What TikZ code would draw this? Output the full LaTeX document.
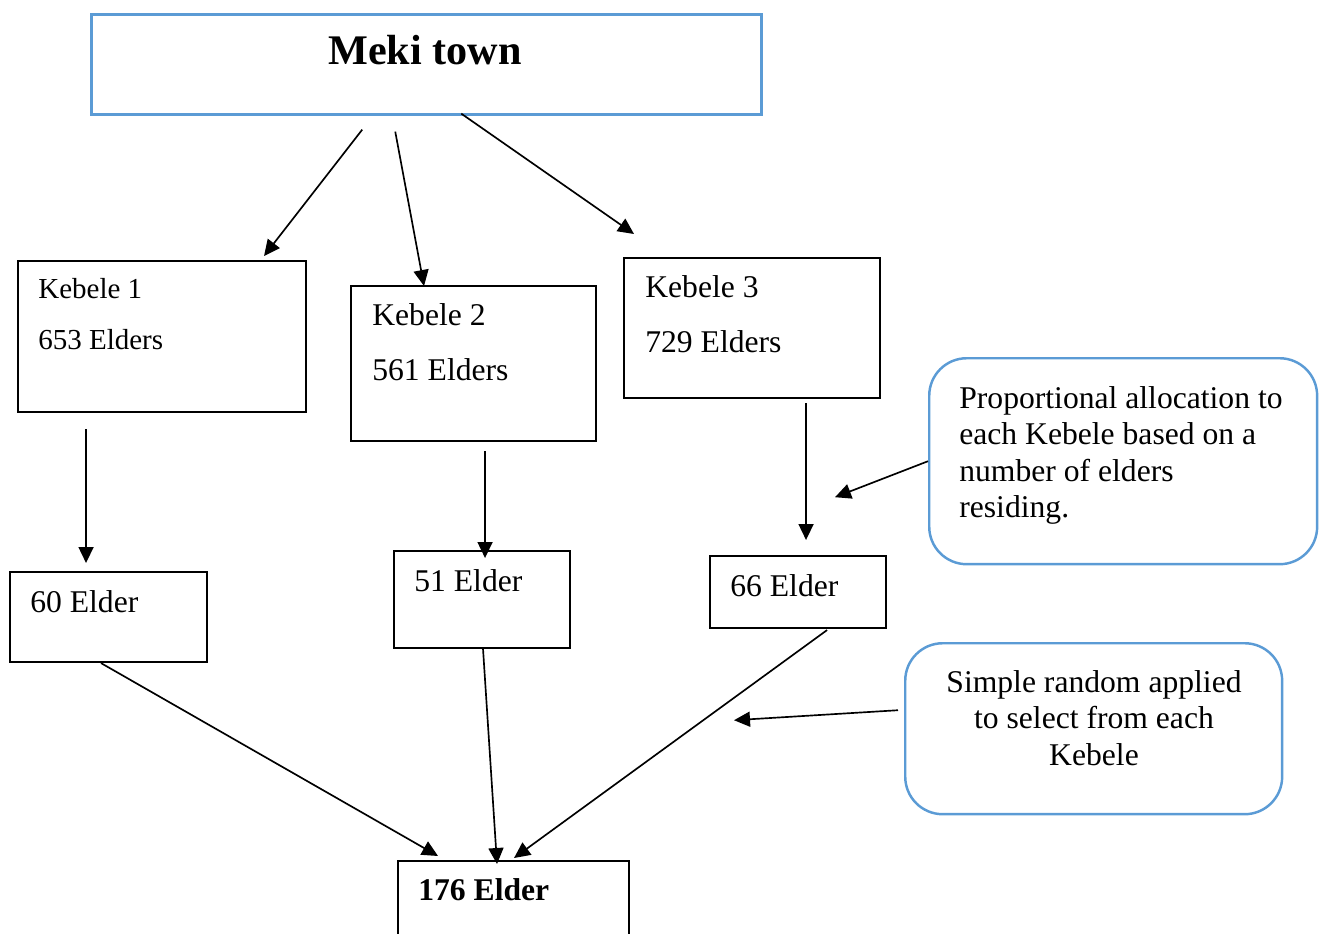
\documentclass[tikz,border=0pt]{standalone}
\usepackage{fontspec}
\setmainfont{Liberation Serif}
\usetikzlibrary{arrows.meta,calc}
\definecolor{boxblue}{RGB}{91,155,213}

\begin{document}
\begin{tikzpicture}[x=0.02cm, y=-0.02cm]

% Define styles
\tikzstyle{town} = [rectangle, draw=boxblue, line width=1.5pt, anchor=north west, inner sep=0pt]
\tikzstyle{kebele} = [rectangle, draw=black, line width=1.2pt, anchor=north west, inner sep=0pt]
\tikzstyle{note} = [rectangle, rounded corners=0.75cm, draw=boxblue, line width=1.4pt, anchor=north west, inner sep=0pt]
\tikzstyle{celltext} = [inner sep=0pt, align=left, anchor=north west, font=\fontsize{18}{31.3}\selectfont]
\tikzstyle{arrow} = [line width=0.95pt, -{Triangle[length=0.32cm, width=0.3cm]}]

\clip (0,0) rectangle (1320,934);

% Top: the town
\node (meki) [town, minimum width=13.4cm, minimum height=2cm] at (90,13) {};
\node (mekilabel) [anchor=base, inner sep=0pt, font=\fontsize{24}{28}\selectfont\bfseries] at (425,64) {Meki town};

% Kebeles
\node (k1) [kebele, minimum width=5.76cm, minimum height=3.02cm] at (17,260) {};
\node (k2) [kebele, minimum width=4.9cm, minimum height=3.1cm] at (350,285) {};
\node (k3) [kebele, minimum width=5.12cm, minimum height=2.8cm] at (623,257) {};
\node (k1label) [celltext, font=\fontsize{16.5}{29}\selectfont] at (38,278) {Kebele 1\\653 Elders};
\node (k2label) [celltext] at (372,303.4) {Kebele 2\\561 Elders};
\node (k3label) [celltext] at (645,275.4) {Kebele 3\\729 Elders};

% Samples per kebele
\node (e60) [kebele, minimum width=3.94cm, minimum height=1.8cm] at (9,571) {};
\node (e51) [kebele, minimum width=3.52cm, minimum height=1.94cm] at (393,550) {};
\node (e66) [kebele, minimum width=3.52cm, minimum height=1.44cm] at (709,555) {};
\node (e60label) [celltext, anchor=base west] at (30,612) {60 Elder};
\node (e51label) [celltext, anchor=base west] at (414,591) {51 Elder};
\node (e66label) [celltext, anchor=base west] at (730,596) {66 Elder};

% Total sample
\node (e176) [kebele, minimum width=4.62cm, minimum height=2.4cm] at (397,860) {};
\node (e176label) [celltext, anchor=base west, font=\fontsize{18}{31.3}\selectfont\bfseries] at (418,900) {176 Elder};

% Notes
\node (alloc) [note, minimum width=7.76cm, minimum height=4.12cm] at (928,357) {};
\node (alloclabel) [celltext, font=\fontsize{18}{20.6}\selectfont] at (959,386.4) {Proportional allocation to\\each Kebele based on a\\number of elders\\residing.};
\node (simple) [note, minimum width=7.54cm, minimum height=3.42cm] at (904,642) {};
\node (simplelabel) [celltext, align=center, anchor=north, font=\fontsize{18}{20.6}\selectfont] at (1094,670.4) {Simple random applied\\to select from each\\Kebele};

% Town to kebeles
\draw [arrow] ($(meki.south)+(-64,14)$) -- ($(k1.north)+(102,-4)$);
\draw [arrow] ($(meki.south)+(-31,16)$) -- ($(k2.north)+(-49.5,1)$);
\draw [arrow] ($(meki.south)+(35,-2)$) -- ($(k3.north)+(-118,-23)$);

% Kebeles to samples
\draw [arrow] ($(k1.south)+(-76,16)$) -- ($(e60.north)+(-22.5,-8)$);
\draw [arrow] ($(k2.south)+(11.5,9)$) -- ($(e51.north)+(3,8)$);
\draw [arrow] ($(k3.south)+(54,4)$) -- ($(e66.north)+(8,-15)$);

% Samples to total
\draw [arrow] ($(e60.south)+(-7.5,0)$) -- ($(e176.north)+(-75.5,-4)$);
\draw [arrow] ($(e51.south)+(1,0)$) -- ($(e176.north)+(-16.5,4)$);
\draw [arrow] ($(e66.south)+(29,1)$) -- ($(e176.north)+(0.5,-2)$);

% Note pointers
\coordinate (allocend) at ($(alloc.west)+(-93,36)$);
\coordinate (simpleend) at ($(simple.west)+(-170,-8.5)$);
\draw [arrow] (alloc.west) -- (allocend);
\draw [arrow] ($(simple.west)+(-6,-18.5)$) -- (simpleend);

\end{tikzpicture}
\end{document}
